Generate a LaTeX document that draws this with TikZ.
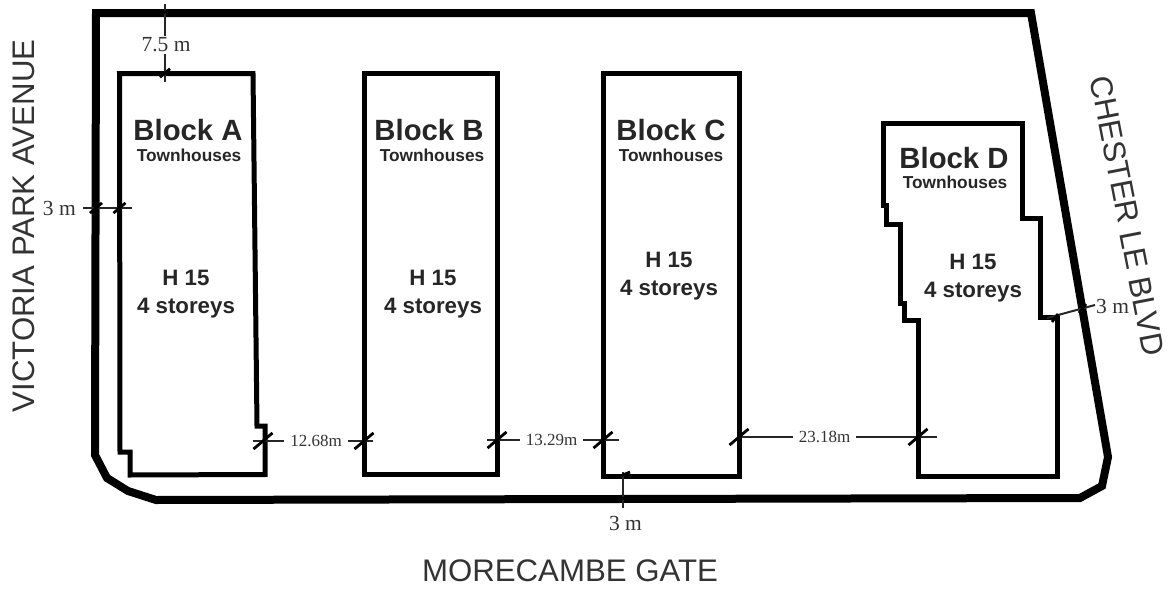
\documentclass[tikz,border=0pt]{standalone}
\usepackage{fontspec}
\setmainfont{Liberation Sans}
\newfontfamily\dimfont{Liberation Serif}
\definecolor{ink}{HTML}{262626}
\definecolor{roadink}{HTML}{333333}
\newcommand{\tk}[2]{\draw[ticks] ([shift={(-#2,#2*0.85)}]#1) -- ([shift={(#2,-#2*0.85)}]#1);}
\tikzset{
  lot/.style={line width=8pt,line join=miter,draw=black},
  block/.style={line width=5pt,line join=miter,draw=black},
  dimline/.style={line width=2pt,draw=black!85},
  ticks/.style={line width=2.8pt,draw=black},
  bname/.style={inner sep=0pt,anchor=base,text=ink,font=\fontsize{29.3}{30}\selectfont\bfseries},
  btype/.style={inner sep=0pt,anchor=base,text=ink,font=\fontsize{17.3}{18}\selectfont\bfseries},
  binfo/.style={inner sep=0pt,anchor=base,text=ink,font=\fontsize{22.3}{24}\selectfont\bfseries},
  road/.style={inner sep=0pt,text=roadink,font=\fontsize{31.2}{32}\selectfont},
  dimtxt/.style={inner sep=6pt,text=roadink,font=\dimfont\fontsize{17}{18}\selectfont},
  dimbig/.style={inner sep=2pt,text=roadink,font=\dimfont\fontsize{21.5}{22}\selectfont}
}
\begin{document}
\begin{tikzpicture}[x=1pt,y=-1pt]
\useasboundingbox (0,0) rectangle (1171,589);
% lot
\draw[lot] (96,13) -- (1031,13) -- (1108,457) -- (1102,486) -- (1080,498) -- (156,500) -- (128,491) -- (107,478) -- (95,455) -- cycle;
% blocks
\draw[block] (119.5,73.5) -- (253,73.5) -- (257,426) -- (265,426) -- (265,474.5) -- (130,475) -- (130,452) -- (120,452) -- cycle;
\draw[block] (364,73.5) rectangle (497,474.5);
\draw[block] (603,73.5) rectangle (739,476);
\draw[block] (883,123) -- (1022,123) -- (1022,218) -- (1040,218) -- (1040,317) -- (1057,317) -- (1057,476) -- (918,476) -- (918,320) -- (904,320) -- (904,303) -- (900,303) -- (900,224) -- (886,224) -- (886,205) -- (883,205) -- cycle;
% block labels
\node[bname] (na) at (188,140) {Block A};
\node[btype] (ta) at (189,161) {Townhouses};
\node[binfo] (ha) at (186,285) {H 15};
\node[binfo] (sa) at (186,313) {4 storeys};
\node[bname] (nb) at (429,140) {Block B};
\node[btype] (tb) at (432,161) {Townhouses};
\node[binfo] (hb) at (433,285) {H 15};
\node[binfo] (sb) at (433,313) {4 storeys};
\node[bname] (nc) at (671,140) {Block C};
\node[btype] (tc) at (671,161) {Townhouses};
\node[binfo] (hc) at (669,267) {H 15};
\node[binfo] (sc) at (669,295) {4 storeys};
\node[bname] (nd) at (954,168) {Block D};
\node[btype] (td) at (955,188) {Townhouses};
\node[binfo] (hd) at (973,269) {H 15};
\node[binfo] (sd) at (973,297) {4 storeys};
% roads
\node[road,rotate=90] (rv) at (24,226) {VICTORIA PARK AVENUE};
\node[road] (rm) at (570,571) {MORECAMBE GATE};
\node[road,rotate=-79] (rc) at (1127.5,216) {CHESTER LE BLVD};
% 7.5 m
\node[dimbig] (d75) at (166,45) {7.5 m};
\coordinate (t1) at (165,4); \coordinate (t2) at (165,82);
\draw[dimline] (t1) -- (d75.north -| t1);
\draw[dimline] (d75.south -| t1) -- (t2);
\draw[ticks] (160,13) -- (170,11);
\tk{165,73}{5}
% 3 m left
\node[dimbig,anchor=east,inner sep=0pt] (dl) at (76,208) {3 m};
\coordinate (l1) at (83,208); \coordinate (l2) at (132,208);
\draw[dimline] (l1) -- (l2);
\tk{96,208}{6}
\tk{119.5,208}{6}
% 12.68m
\node[dimtxt] (d1) at (316,441) {12.68m};
\coordinate (a1) at (253,441); \coordinate (a2) at (373,441);
\draw[dimline] (a1) -- (d1.west |- a1);
\draw[dimline] (d1.east |- a1) -- (a2);
\tk{263,441}{9.5}
\tk{364,441}{9.5}
% 13.29m
\node[dimtxt] (d2) at (551.5,440) {13.29m};
\coordinate (b1) at (487,440); \coordinate (b2) at (619,440);
\draw[dimline] (b1) -- (d2.west |- b1);
\draw[dimline] (d2.east |- b1) -- (b2);
\tk{497,440}{9.5}
\tk{603,440}{9.5}
% 23.18m
\node[dimtxt] (d3) at (824.5,437) {23.18m};
\coordinate (c1) at (739,437); \coordinate (c2) at (937,437);
\draw[dimline] (c1) -- (d3.west |- c1);
\draw[dimline] (d3.east |- c1) -- (c2);
\tk{739,437}{9.5}
\tk{918,437}{9.5}
% 3 m bottom
\node[dimbig,inner sep=0pt] (db) at (625.5,523) {3 m};
\coordinate (e1) at (623,472); \coordinate (e2) at (623,508);
\draw[dimline] (e1) -- (e2);
\draw[ticks] (618,477) -- (630,472);
\draw[ticks] (618,499) -- (630,497);
% 3 m right
\node[dimbig,inner sep=0pt,anchor=west] (dr) at (1096,306) {3 m};
\coordinate (f1) at (1047,318); \coordinate (f2) at (1095,305);
\draw[dimline] (f1) -- (f2);
\draw[ticks] (1052,322) -- (1058,314);
\draw[ticks] (1079,313) -- (1086,304);
\end{tikzpicture}
\end{document}
